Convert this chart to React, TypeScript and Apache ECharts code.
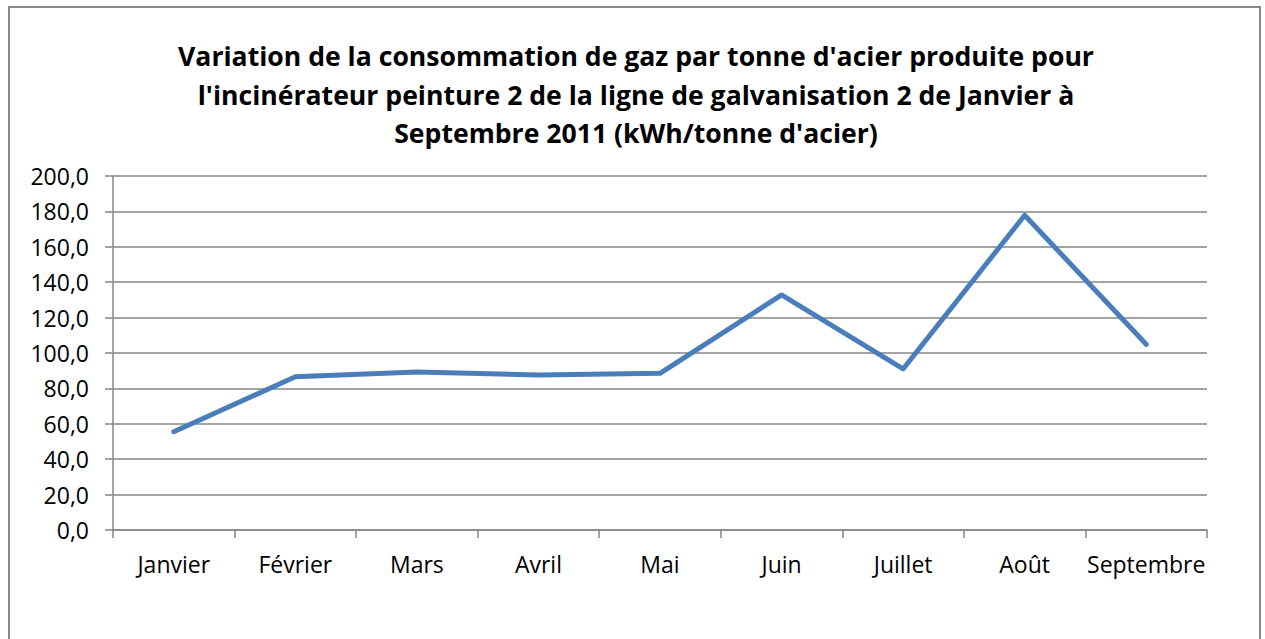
import React, { useEffect, useRef } from "react";
import * as echarts from "echarts";

const titleLines = [
  "Variation de la consommation de gaz par tonne d'acier produite pour",
  "l'incinérateur peinture 2 de la ligne de galvanisation 2 de Janvier à",
  "Septembre 2011 (kWh/tonne d'acier)",
];
const months = ["Janvier", "Février", "Mars", "Avril", "Mai", "Juin", "Juillet", "Août", "Septembre"];
const gasPerTonne = [55.5, 86.6, 89.3, 87.6, 88.5, 132.8, 91.0, 177.8, 104.9];

const FONT = "'Open Sans', 'Noto Sans', sans-serif";
const GRAY = "#868686";
const titleY = [56, 95, 133];

export default function App() {
  const ref = useRef<HTMLDivElement>(null);
  useEffect(() => {
    if (!ref.current) return;
    const chart = echarts.init(ref.current, undefined, { renderer: "svg" });
    chart.setOption({
      animation: false,
      backgroundColor: "#ffffff",
      graphic: [
        {
          type: "rect",
          shape: { x: 9, y: 7, width: 1251, height: 700 },
          style: { fill: "none", stroke: "#898989", lineWidth: 2 },
          silent: true,
        },
        ...titleLines.map((t, i) => ({
          type: "text",
          x: 636,
          y: titleY[i],
          silent: true,
          style: {
            text: t,
            fontFamily: FONT,
            fontSize: 26.6,
            fontWeight: "bold",
            fill: "#000",
            textAlign: "center",
            textVerticalAlign: "middle",
          },
        })),
      ],
      grid: { left: 113, top: 176, right: 58, bottom: 109, containLabel: false },
      xAxis: {
        type: "category",
        data: months,
        boundaryGap: true,
        axisLine: { show: true, lineStyle: { color: GRAY, width: 1.5 } },
        axisTick: { show: true, length: 8, lineStyle: { color: GRAY, width: 1.5 } },
        axisLabel: { fontFamily: FONT, fontSize: 23, color: "#000", margin: 22, interval: 0 },
        splitLine: { show: false },
      },
      yAxis: {
        type: "value",
        min: 0,
        max: 200,
        interval: 20,
        axisLine: { show: true, lineStyle: { color: GRAY, width: 1.5 } },
        axisTick: { show: true, length: 8, lineStyle: { color: GRAY, width: 1.5 } },
        axisLabel: {
          fontFamily: FONT,
          fontSize: 23,
          color: "#000",
          margin: 24,
          formatter: (v: number) => v.toFixed(1).replace(".", ","),
        },
        splitLine: { show: true, lineStyle: { color: GRAY, width: 1.5 } },
      },
      series: [
        {
          type: "line",
          data: gasPerTonne,
          symbol: "none",
          lineStyle: { color: "#4A7EBB", width: 5, cap: "round", join: "round" },
        },
      ],
    });
    return () => chart.dispose();
  }, []);
  return (
    <div
      ref={ref}
      style={{ position: "absolute", left: 0, top: 0, width: 1265, height: 639 }}
    />
  );
}
